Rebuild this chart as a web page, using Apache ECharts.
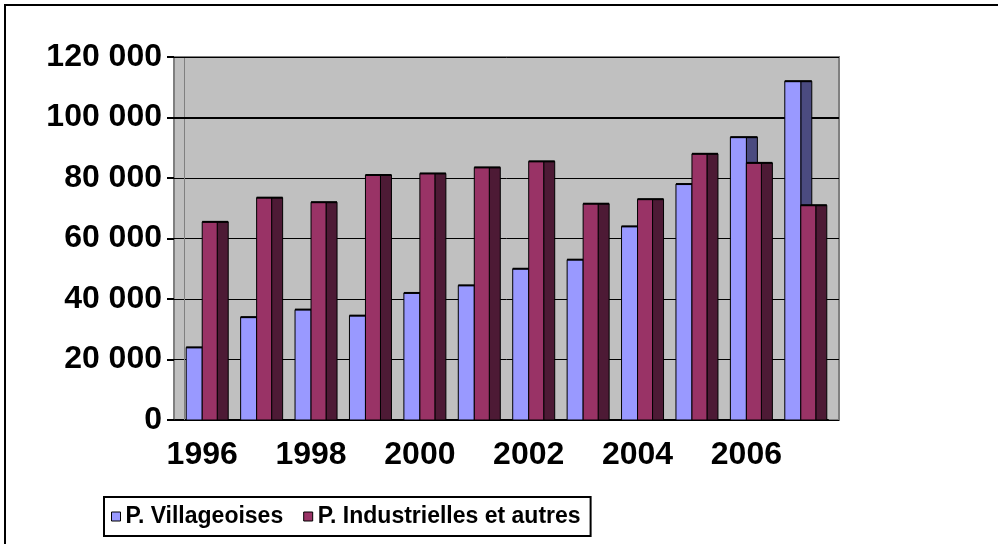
<!DOCTYPE html>
<html>
<head>
<meta charset="utf-8">
<script src="https://cdn.jsdelivr.net/npm/echarts@6/dist/echarts.min.js"></script>
<style>
  html, body { margin: 0; padding: 0; background: #fff; }
  #chart { width: 998px; height: 544px; }
</style>
</head>
<body>
<div id="chart"></div>
<script>
// années
var years = ['1996','1997','1998','1999','2000','2001','2002','2003','2004','2005','2006','2007'];
// P. Villageoises
var villageoises = [24000, 34000, 36500, 34500, 42000, 44500, 50000, 53000, 64000, 78000, 93500, 112000];
// P. Industrielles et autres
var industrielles = [65500, 73500, 72000, 81000, 81500, 83500, 85500, 71500, 73000, 88000, 85000, 71000];

var seriesNames = ['P. Villageoises', 'P. Industrielles et autres'];

var chart = echarts.init(document.getElementById('chart'));

function toPairs(arr) {
  return arr.map(function (v, i) { return [i, v]; });
}

// barre "3D" : face avant + face latérale sombre
function bar3d(frontOff, frontW, sideOff, sideW, frontColor, sideColor) {
  return function (params, api) {
    var top = api.coord([api.value(0), api.value(1)]);
    var base = api.coord([api.value(0), 0]);
    var c = top[0];
    var h = base[1] - top[1];
    return {
      type: 'group',
      children: [
        { type: 'rect', shape: { x: c + sideOff, y: top[1], width: sideW, height: h },
          style: { fill: sideColor, stroke: '#000', lineWidth: 1 } },
        { type: 'rect', shape: { x: c + frontOff, y: top[1], width: frontW, height: h },
          style: { fill: frontColor, stroke: '#000', lineWidth: 1 } },
        { type: 'line', shape: { x1: c + Math.min(frontOff, sideOff), y1: top[1], x2: c + Math.max(frontOff + frontW, sideOff + sideW), y2: top[1] },
          style: { stroke: '#000', lineWidth: 2 } }
      ]
    };
  };
}

function fmt(v) {
  return String(v).replace(/\B(?=(\d{3})+(?!\d))/g, ' ');
}

var option = {
  animation: false,
  backgroundColor: '#fff',
  textStyle: { fontFamily: 'Liberation Sans' },
  grid: [
    { left: 174, right: 159, top: 57, bottom: 124, show: true, backgroundColor: '#c0c0c0', borderColor: '#808080', borderWidth: 2 },
    { left: 175, right: 170, top: 57, bottom: 124 }
  ],
  xAxis: [
    { type: 'value', gridIndex: 0, min: 0, max: 1, show: false },
    {
      type: 'category', gridIndex: 1, data: years,
      axisLine: { lineStyle: { color: '#000', width: 2 } },
      axisTick: { length: 8, interval: function (i) { return i > 0; }, lineStyle: { color: '#000', width: 2 } },
      axisLabel: { interval: 1, color: '#000', fontSize: 32, fontWeight: 'bold', margin: 19, fontFamily: 'Liberation Sans' }
    }
  ],
  yAxis: [
    {
      type: 'value', gridIndex: 0, min: 0, max: 120000, interval: 20000,
      axisLine: { show: false },
      axisTick: { show: true, length: 7, lineStyle: { color: '#000', width: 2 } },
      axisLabel: { color: '#000', fontSize: 32, fontWeight: 'bold', margin: 12, fontFamily: 'Liberation Sans', formatter: fmt },
      splitLine: { lineStyle: { color: '#000', width: 1 } }
    },
    { type: 'value', gridIndex: 1, min: 0, max: 120000, show: false }
  ],
  legend: {
    left: 104, top: 497,
    orient: 'horizontal',
    itemWidth: 9, itemHeight: 9, itemGap: 20,
    padding: [8, 10, 8, 7],
    borderColor: '#000', borderWidth: 2,
    textStyle: { color: '#000', fontSize: 23, fontWeight: 'bold', fontFamily: 'Liberation Sans' },
    data: [
      { name: seriesNames[0], icon: 'rect', itemStyle: { color: '#9999ff', borderColor: '#000', borderWidth: 1 } },
      { name: seriesNames[1], icon: 'rect', itemStyle: { color: '#993366', borderColor: '#000', borderWidth: 1 } }
    ]
  },
  graphic: [
    { type: 'rect', shape: { x: 5, y: 5, width: 1100, height: 700 }, style: { fill: 'none', stroke: '#000', lineWidth: 2 }, z: 100 },
    { type: 'line', shape: { x1: 184.5, y1: 58, x2: 184.5, y2: 420 }, style: { stroke: '#808080', lineWidth: 1 }, z: 1 }
  ],
  series: [
    {
      type: 'line', xAxisIndex: 0, yAxisIndex: 0, data: [], silent: true,
      markLine: { silent: true, symbol: 'none', label: { show: false },
        lineStyle: { color: '#000', width: 2, type: 'solid' }, data: [{ yAxis: 100000 }] },
      z: 1
    },
    {
      name: seriesNames[0], type: 'custom', xAxisIndex: 1, yAxisIndex: 1,
      itemStyle: { color: '#9999ff' },
      encode: { x: 0, y: 1 },
      renderItem: bar3d(-16, 16, 0, 11, '#9999ff', '#4b4b80'),
      data: toPairs(villageoises), z: 5
    },
    {
      name: seriesNames[1], type: 'custom', xAxisIndex: 1, yAxisIndex: 1,
      itemStyle: { color: '#993366' },
      encode: { x: 0, y: 1 },
      renderItem: bar3d(0, 15, 15, 11, '#993366', '#4d1a35'),
      data: toPairs(industrielles), z: 6
    }
  ]
};

chart.setOption(option);
</script>
</body>
</html>
